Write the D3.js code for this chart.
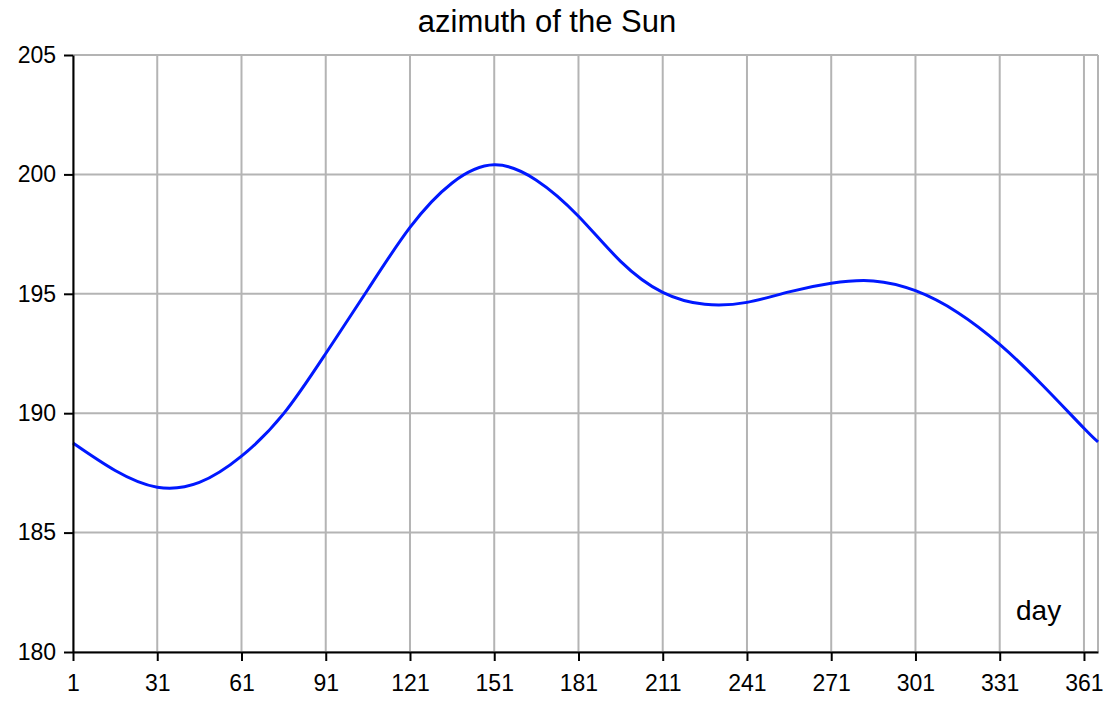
<!DOCTYPE html>
<html>
<head>
<meta charset="utf-8">
<script src="https://cdn.jsdelivr.net/npm/d3@7"></script>
<style>
  html, body { margin: 0; padding: 0; background: #fff; }
  svg { display: block; font-family: "Liberation Sans", Arial, sans-serif; }
</style>
</head>
<body>
<svg id="chart" width="1120" height="706"></svg>
<script>
const days = [1, 16, 31, 46, 61, 76, 91, 106, 121, 136, 151, 166, 181, 196, 211, 226, 241, 256, 271, 286, 301, 316, 331, 346, 361, 366];
const azimuth = [188.75, 187.6, 186.9, 187.1, 188.2, 189.98, 192.5, 195.18, 197.78, 199.64, 200.4, 199.76, 198.25, 196.36, 195.06, 194.56, 194.64, 195.08, 195.44, 195.54, 195.13, 194.22, 192.88, 191.2, 189.37, 188.8];
const xTicks = [1, 31, 61, 91, 121, 151, 181, 211, 241, 271, 301, 331, 361];
const yTicks = [180, 185, 190, 195, 200, 205];
const title = "azimuth of the Sun";
const xLabel = "day";

const svg = d3.select("#chart");
const margin = {left: 73, right: 22, top: 55, bottom: 54};
const W = 1120, H = 706;
const x = d3.scaleLinear().domain([1, 366]).range([margin.left, W - margin.right]);
const y = d3.scaleLinear().domain([180, 205]).range([H - margin.bottom, margin.top]);

const grid = svg.append("g");
grid.selectAll("line.vx").data(xTicks.concat([366])).join("line")
  .attr("x1", d => x(d)).attr("x2", d => x(d))
  .attr("y1", y(180)).attr("y2", y(205))
  .attr("stroke", "#b4b4b4").attr("stroke-width", 2);
grid.selectAll("line.hy").data(yTicks).join("line")
  .attr("x1", x(1)).attr("x2", x(366))
  .attr("y1", d => y(d)).attr("y2", d => y(d))
  .attr("stroke", "#b4b4b4").attr("stroke-width", 2);

const line = d3.line().x((d, i) => x(days[i])).y(d => y(d)).curve(d3.curveNatural);
svg.append("path").datum(azimuth)
  .attr("d", line).attr("fill", "none")
  .attr("stroke", "#0018ff").attr("stroke-width", 3);

const xAxis = svg.append("g").attr("transform", `translate(0,${y(180)})`)
  .call(d3.axisBottom(x).tickValues(xTicks).tickSize(9).tickPadding(14).tickSizeOuter(0));
const yAxis = svg.append("g").attr("transform", `translate(${x(1)},0)`)
  .call(d3.axisLeft(y).tickValues(yTicks).tickSize(9).tickPadding(8).tickSizeOuter(0));
[xAxis, yAxis].forEach(a => {
  a.select(".domain").attr("stroke", "#000").attr("stroke-width", 2);
  a.selectAll(".tick line").attr("stroke", "#000").attr("stroke-width", 2);
  a.selectAll(".tick text").attr("fill", "#000")
    .style("font-family", "'Liberation Sans', Arial, sans-serif").style("font-size", "23px");
});

svg.append("text").attr("x", 547).attr("y", 32).attr("text-anchor", "middle")
  .style("font-size", "31px").attr("fill", "#000").text(title);
svg.append("text").attr("x", 1016).attr("y", 620).attr("text-anchor", "start")
  .style("font-size", "28px").attr("fill", "#000").text(xLabel);
</script>
</body>
</html>
